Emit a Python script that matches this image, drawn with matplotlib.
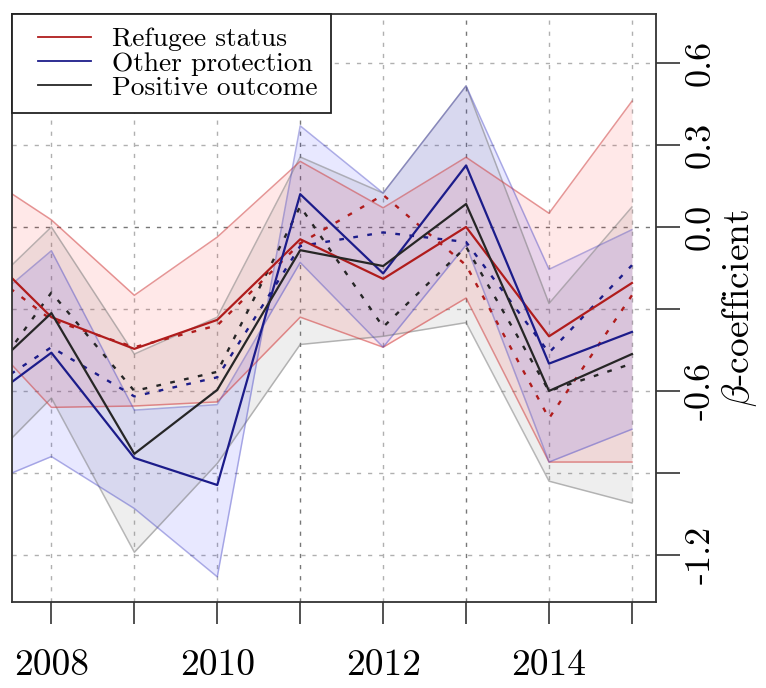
import matplotlib
matplotlib.use("Agg")
import matplotlib.pyplot as plt
from matplotlib.legend_handler import HandlerLine2D

plt.rcParams['font.family'] = 'cmr10'
plt.rcParams['mathtext.fontset'] = 'cm'
plt.rcParams['axes.unicode_minus'] = False
plt.rcParams['axes.formatter.use_mathtext'] = True

years = [2007, 2008, 2009, 2010, 2011, 2012, 2013, 2014, 2015]

# refugee status
refugee_mean = [-0.03, -0.33, -0.446, -0.34, -0.045, -0.19, 0.0, -0.40, -0.205]
refugee_lo = [-0.334, -0.66, -0.655, -0.64, -0.33, -0.44, -0.26, -0.86, -0.86]
refugee_hi = [0.226, 0.026, -0.25, -0.037, 0.24, 0.07, 0.255, 0.05, 0.46]
refugee_alt = [-0.108, -0.34, -0.44, -0.36, -0.06, 0.117, -0.14, -0.70, -0.25]

# other protection (band edges swap between 2010 and 2011)
other_mean = [-0.685, -0.46, -0.845, -0.944, 0.12, -0.17, 0.225, -0.50, -0.384]
other_ci1 = [-0.966, -0.84, -1.03, -1.28, 0.37, 0.124, 0.516, -0.155, -0.01]
other_ci2 = [-0.344, -0.087, -0.67, -0.65, -0.13, -0.44, -0.066, -0.86, -0.74]
other_alt = [-0.64, -0.44, -0.62, -0.55, -0.07, -0.02, -0.055, -0.46, -0.14]

# positive outcome
positive_mean = [-0.60, -0.315, -0.83, -0.596, -0.085, -0.143, 0.084, -0.60, -0.465]
positive_lo = [-0.933, -0.626, -1.19, -0.865, -0.43, -0.40, -0.35, -0.93, -1.01]
positive_hi = [-0.293, 0.0, -0.465, -0.33, 0.256, 0.124, 0.516, -0.28, 0.073]
positive_alt = [-0.66, -0.24, -0.60, -0.53, 0.075, -0.366, -0.073, -0.60, -0.50]

xticks = [2008, 2009, 2010, 2011, 2012, 2013, 2014, 2015]
xlabels = ['2008', '', '2010', '', '2012', '', '2014', '']
yticks = [-1.2, -0.9, -0.6, -0.3, 0.0, 0.3, 0.6]
ylabels = ['-1.2', '', '-0.6', '', '0.0', '0.3', '0.6']

red = '#b01c1c'
blue = '#1c1c8a'
black = '#262626'

fig = plt.figure(figsize=(7.66, 6.88), dpi=100)
ax = fig.add_axes([12/766, 86/688, 644/766, 588/688])

# confidence bands
ax.fill_between(years, positive_lo, positive_hi, color='gray', alpha=0.13, lw=0)
ax.plot(years, positive_lo, color='gray', alpha=0.55, lw=1.1)
ax.plot(years, positive_hi, color='gray', alpha=0.55, lw=1.1)

ax.fill_between(years, refugee_lo, refugee_hi, color='red', alpha=0.09, lw=0)
ax.plot(years, refugee_lo, color='#d04040', alpha=0.55, lw=1.1)
ax.plot(years, refugee_hi, color='#d04040', alpha=0.55, lw=1.1)

ax.fill_between(years, other_ci1, other_ci2, color='blue', alpha=0.09, lw=0)
ax.plot(years, other_ci1, color='#4040c0', alpha=0.4, lw=1.1)
ax.plot(years, other_ci2, color='#4040c0', alpha=0.4, lw=1.1)

# alternative estimates, dashed
ax.plot(years, refugee_alt, color=red, lw=1.7, ls=(0, (2, 4)))
ax.plot(years, other_alt, color=blue, lw=1.7, ls=(0, (2, 4)))
ax.plot(years, positive_alt, color=black, lw=1.7, ls=(0, (2, 4)))

# point estimates
ax.plot(years, refugee_mean, color=red, lw=1.6, label='Refugee status')
ax.plot(years, other_mean, color=blue, lw=1.6, label='Other protection')
ax.plot(years, positive_mean, color=black, lw=1.6, label='Positive outcome')

ax.set_xlim(2007.525, 2015.29)
ax.set_ylim(-1.372, 0.779)

# grid
for yr in xticks:
    c = '#777777' if yr in (2011, 2013) else '#b0b0b0'
    ax.axvline(yr, color=c, lw=1.0, ls=(0, (3, 5)), zorder=0)
for yv in yticks:
    c = '#777777' if yv == 0.0 else '#b0b0b0'
    ax.axhline(yv, color=c, lw=1.0, ls=(0, (3, 5)), zorder=0)

ax.set_xticks(xticks)
ax.set_xticklabels(xlabels, fontsize=27)
ax.yaxis.tick_right()
ax.yaxis.set_label_position('right')
ax.set_yticks(yticks)
ax.set_yticklabels(ylabels, fontsize=26, rotation=90, va='center')
ax.tick_params(axis='x', length=16, width=1.2, pad=18, color='#333333')
ax.tick_params(axis='y', length=17, width=1.2, pad=4, color='#333333')
ax.set_ylabel(r'$\beta$-coefficient', fontsize=27, labelpad=2)

for s in ax.spines.values():
    s.set_linewidth(1.3)
    s.set_color('#333333')

leg = ax.legend(loc='upper left', bbox_to_anchor=(0, 1), borderaxespad=0,
                fontsize=19.8, fancybox=False, edgecolor='#222222',
                handlelength=2.4, handletextpad=0.75, labelspacing=0.0,
                borderpad=0.48, framealpha=1,
                handler_map={plt.Line2D: HandlerLine2D(xpad=0.45)})
leg.get_frame().set_linewidth(1.3)
for h in leg.get_lines():
    h.set_linewidth(1.3)

fig.savefig('out.png', dpi=100)
